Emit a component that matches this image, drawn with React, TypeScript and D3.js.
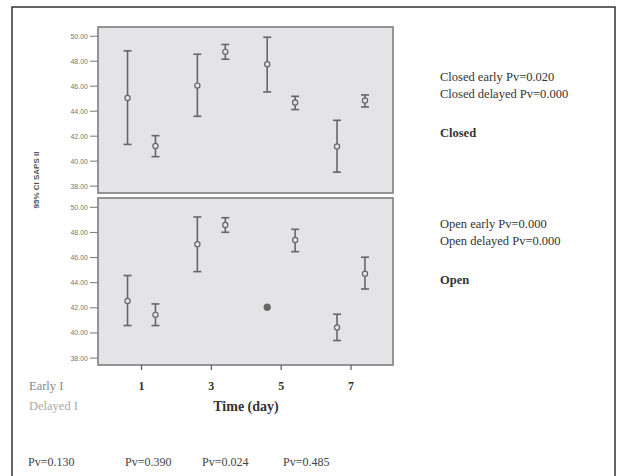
import React from "react";
import * as d3 from "d3";

const days = [1, 3, 5, 7];
const yTicks = [38, 40, 42, 44, 46, 48, 50];

// Closed group
const closedEarlyMean = [45.06, 46.05, 47.76, 41.18];
const closedEarlyLow = [41.34, 43.59, 45.54, 39.12];
const closedEarlyHigh = [48.83, 48.56, 49.92, 43.27];
const closedDelayedMean = [41.21, 48.75, 44.69, 44.85];
const closedDelayedLow = [40.36, 48.16, 44.13, 44.34];
const closedDelayedHigh = [42.04, 49.34, 45.19, 45.3];

// Open group
const openEarlyMean = [42.54, 47.06, 42.05, 40.43];
const openEarlyLow = [40.59, 44.88, 41.97, 39.4];
const openEarlyHigh = [44.57, 49.23, 42.13, 41.49];
const openDelayedMean = [41.44, 48.59, 47.4, 44.72];
const openDelayedLow = [40.59, 48.01, 46.47, 43.5];
const openDelayedHigh = [42.31, 49.17, 48.25, 46.03];

const closedLabels = ["Closed early Pv=0.020", "Closed delayed Pv=0.000"];
const openLabels = ["Open early Pv=0.000", "Open delayed Pv=0.000"];
const dayPv = ["Pv=0.130", "Pv=0.390", "Pv=0.024", "Pv=0.485"];

const W = 620;
const H = 476;
const panelLeft = 98;
const panelRight = 393;
const panels = [
  { top: 27, bottom: 193, name: "Closed", labels: closedLabels,
    em: closedEarlyMean, el: closedEarlyLow, eh: closedEarlyHigh,
    dm: closedDelayedMean, dl: closedDelayedLow, dh: closedDelayedHigh },
  { top: 198, bottom: 365, name: "Open", labels: openLabels,
    em: openEarlyMean, el: openEarlyLow, eh: openEarlyHigh,
    dm: openDelayedMean, dl: openDelayedLow, dh: openDelayedHigh },
];

const serif = "'Liberation Serif', 'DejaVu Serif', serif";

export default function App() {
  const x = d3.scaleLinear().domain([1, 7]).range([141.5, 351]);
  const offset = 0.4;

  const renderBar = (cx: number, m: number, lo: number, hi: number, y: d3.ScaleLinear<number, number>, key: string) => {
    const tiny = Math.abs(y(lo) - y(hi)) < 3;
    return (
      <g key={key} stroke="#666" fill="none">
        {!tiny && <line x1={cx} x2={cx} y1={y(lo)} y2={y(hi)} strokeWidth={1.6} />}
        {!tiny && <line x1={cx - 4} x2={cx + 4} y1={y(lo)} y2={y(lo)} strokeWidth={1.6} />}
        {!tiny && <line x1={cx - 4} x2={cx + 4} y1={y(hi)} y2={y(hi)} strokeWidth={1.6} />}
        <circle cx={cx} cy={y(m)} r={tiny ? 3 : 2.6} strokeWidth={1.2} fill={tiny ? "#666" : "#e4e4e6"} />
      </g>
    );
  };

  return (
    <svg width={W} height={H} style={{ position: "absolute", left: 0, top: 0, background: "#fff" }}>
      <rect x={12} y={7} width={603} height={490} fill="#fff" stroke="#333" strokeWidth={1.5} />
      {panels.map((p, pi) => {
        const y = d3.scaleLinear().domain([37.45, 50.74]).range([p.bottom, p.top]);
        return (
          <g key={pi}>
            <rect x={panelLeft} y={p.top} width={panelRight - panelLeft} height={p.bottom - p.top}
              fill="#e4e4e6" stroke="#8a8a8a" strokeWidth={1.8} />
            {yTicks.map((t) => (
              <g key={t}>
                <line x1={panelLeft - 8} x2={panelLeft} y1={y(t)} y2={y(t)} stroke="#777" strokeWidth={1} />
                <text x={panelLeft - 10} y={y(t)} dy="0.35em" textAnchor="end" fontSize={7}
                  fontFamily="'Liberation Sans', sans-serif" fill="#777">{d3.format(".2f")(t)}</text>
              </g>
            ))}
            {days.map((d, i) => renderBar(x(d - offset), p.em[i], p.el[i], p.eh[i], y, `e${i}`))}
            {days.map((d, i) => renderBar(x(d + offset), p.dm[i], p.dl[i], p.dh[i], y, `d${i}`))}
            {p.labels.map((l, li) => (
              <text key={l} x={440} y={(pi === 0 ? 81 : 228) + li * 17} fontSize={12.5} fontFamily={serif} fill="#333">{l}</text>
            ))}
            <text x={440} y={pi === 0 ? 137 : 284} fontSize={12.5} fontWeight="bold" fontFamily={serif} fill="#333">{p.name}</text>
          </g>
        );
      })}
      {days.map((d) => (
        <g key={d}>
          <line x1={x(d)} x2={x(d)} y1={365} y2={370} stroke="#555" strokeWidth={1.2} />
          <text x={x(d)} y={390} textAnchor="middle" fontSize={12} fontWeight="bold" fontFamily={serif} fill="#333">{d}</text>
        </g>
      ))}
      <text x={246} y={411} textAnchor="middle" fontSize={14} fontWeight="bold" fontFamily={serif} fill="#333">Time (day)</text>
      <text x={29} y={390} fontSize={12.5} fontFamily={serif} fill="#888">Early I</text>
      <text x={29} y={410} fontSize={12.5} fontFamily={serif} fill="#aaa">Delayed I</text>
      <text transform="translate(39,180) rotate(-90)" textAnchor="middle" fontSize={8} fontWeight="bold"
        fontFamily="'Liberation Sans', sans-serif" fill="#555">95% CI  SAPS II</text>
      {dayPv.map((t, i) => (
        <text key={t} x={[28, 125, 202, 283][i]} y={466} fontSize={12} fontFamily={serif} fill="#444">{t}</text>
      ))}
    </svg>
  );
}
